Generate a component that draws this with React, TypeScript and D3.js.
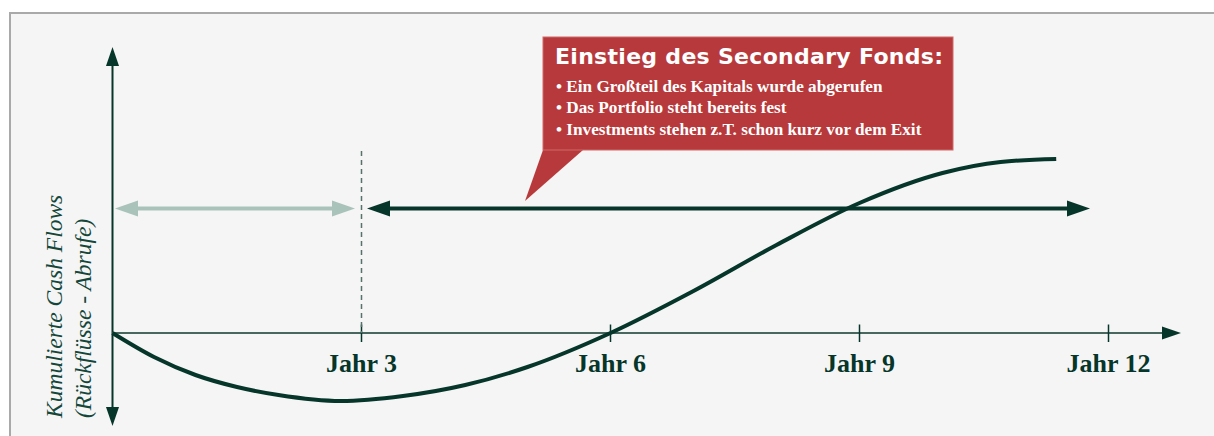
import React from "react";
import * as d3 from "d3";

const W = 1214;
const H = 436;

// Curve: cumulative cash flows (years, arbitrary units)
const curveYears = [0, 0.5, 1, 1.5, 2, 2.75, 3.5, 4.25, 5, 6, 7, 8, 9, 10, 10.7, 11.37];
const curveValues = [0, -24, -42, -54, -62, -68, -63, -52, -34, 0, 42, 88, 130, 160, 171, 174];

const tickYears = [3, 6, 9, 12];
const tickLabels = ["Jahr 3", "Jahr 6", "Jahr 9", "Jahr 12"];

const calloutTitle = "Einstieg des Secondary Fonds:";
const calloutBullets = [
  "Ein Großteil des Kapitals wurde abgerufen",
  "Das Portfolio steht bereits fest",
  "Investments stehen z.T. schon kurz vor dem Exit",
];

const yAxisLines = ["Kumulierte Cash Flows", "(Rückflüsse - Abrufe)"];

const DARK = "#06352a";
const AXIS = "#47675f";
const LIGHT = "#a9c3ba";
const RED = "#b8393b";

export default function App() {
  const x = d3.scaleLinear().domain([0, 12]).range([112.5, 1108.5]);
  const y = d3.scaleLinear().domain([-100, 200]).range([433, 133]);

  const pts = curveYears.map((t, i) => [x(t), y(curveValues[i])] as [number, number]);
  const line = d3.line().curve(d3.curveMonotoneX)(pts) || "";

  const axisY = y(0);
  const axisX = x(0);
  const arrowY = 208.5;

  const arrowHead = (tipX: number, tipY: number, dir: number, len: number, half: number) =>
    `M${tipX},${tipY} L${tipX - dir * len},${tipY - half} L${tipX - dir * len},${tipY + half} Z`;

  const lightStart = 115;
  const lightEnd = 355;
  const darkStart = 367;
  const darkEnd = 1090;

  return (
    <svg width={W} height={H} style={{ display: "block", position: "absolute", left: 0, top: 0 }}>
      <rect x={0} y={0} width={W} height={H} fill="#ffffff" />
      <rect x={10} y={13} width={W + 20} height={H} fill="#f5f5f5" stroke="#a9a9a9" strokeWidth={2} />

      {/* y axis */}
      <line x1={axisX} x2={axisX} y1={62} y2={411} stroke={DARK} strokeWidth={2} />
      <path d={`M${axisX},47 L${axisX - 6.5},66 L${axisX + 6.5},66 Z`} fill={DARK} />
      <path d={`M${axisX},426 L${axisX - 6.5},407 L${axisX + 6.5},407 Z`} fill={DARK} />

      {/* x axis */}
      <line x1={axisX} x2={1166} y1={axisY} y2={axisY} stroke={AXIS} strokeWidth={2} />
      <path d={`M1181,${axisY} L1162,${axisY - 6.5} L1162,${axisY + 6.5} Z`} fill={DARK} />

      {/* ticks & labels */}
      {tickYears.map((t, i) => (
        <g key={t}>
          <line x1={x(t)} x2={x(t)} y1={axisY - 8.5} y2={axisY + 9} stroke={DARK} strokeWidth={1.5} />
          <text
            x={x(t)}
            y={371.5}
            textAnchor="middle"
            fontFamily="'Liberation Serif', serif"
            fontWeight="bold"
            fontSize={26}
            fill={DARK}
          >
            {tickLabels[i]}
          </text>
        </g>
      ))}

      {/* dashed vertical line */}
      <line x1={x(3)} x2={x(3)} y1={151} y2={axisY} stroke="#55726b" strokeWidth={1.5} strokeDasharray="5,4" />

      {/* light arrow */}
      <line x1={lightStart + 18} x2={lightEnd - 18} y1={arrowY} y2={arrowY} stroke={LIGHT} strokeWidth={4} />
      <path d={arrowHead(lightStart, arrowY, -1, 23, 8)} fill={LIGHT} />
      <path d={arrowHead(lightEnd, arrowY, 1, 23, 8)} fill={LIGHT} />

      {/* dark arrow */}
      <line x1={darkStart + 18} x2={darkEnd - 18} y1={arrowY} y2={arrowY} stroke={DARK} strokeWidth={4} />
      <path d={arrowHead(darkStart, arrowY, -1, 23, 8)} fill={DARK} />
      <path d={arrowHead(darkEnd, arrowY, 1, 23, 8)} fill={DARK} />

      {/* curve */}
      <path d={line} fill="none" stroke={DARK} strokeWidth={4} />

      {/* y-axis label */}
      {yAxisLines.map((s, i) => (
        <text
          key={s}
          transform={`translate(${62 + i * 29},418) rotate(-90)`}
          textAnchor="start"
          fontFamily="'Liberation Serif', serif"
          fontStyle="italic"
          fontSize={23.5}
          fill="#14473a"
        >
          {s}
        </text>
      ))}

      {/* callout */}
      <path d="M543,150 L583,150 L525,201 Z" fill={RED} />
      <rect x={543} y={37} width={410} height={113} fill={RED} stroke="#d06a68" strokeWidth={1} />
      <text
        x={555}
        y={63.5}
        fontFamily="'DejaVu Sans', 'Liberation Sans', sans-serif"
        fontWeight="bold"
        fontSize={22}
        textLength={388}
        lengthAdjust="spacing"
        fill="#ffffff"
      >
        {calloutTitle}
      </text>
      {calloutBullets.map((b, i) => (
        <text
          key={b}
          x={556}
          y={91.5 + i * 21.7}
          fontFamily="'Liberation Serif', serif"
          fontWeight="bold"
          fontSize={17.2}
          fill="#ffffff"
        >
          {"• " + b}
        </text>
      ))}
    </svg>
  );
}
